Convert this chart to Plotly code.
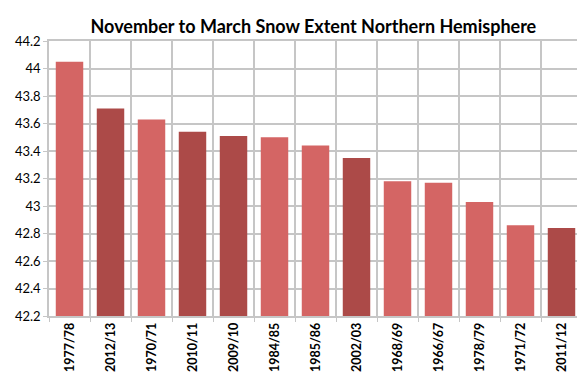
import plotly.graph_objects as go

seasons = ["1977/78", "2012/13", "1970/71", "2010/11", "2009/10", "1984/85", "1985/86",
           "2002/03", "1968/69", "1966/67", "1978/79", "1971/72", "2011/12"]
extent = [44.05, 43.71, 43.63, 43.54, 43.51, 43.50, 43.44,
          43.35, 43.18, 43.17, 43.03, 42.86, 42.84]
recent = [False, True, False, True, True, False, False,
          True, False, False, False, False, True]

axis_floor = 42.2
light = "#D46564"
dark = "#AC4A48"
colors = [dark if r else light for r in recent]

fig = go.Figure(go.Bar(
    x=seasons, y=[v - axis_floor for v in extent], base=axis_floor,
    marker=dict(color=colors, line=dict(width=0)),
    hovertext=[str(v) for v in extent],
))

fig.update_layout(
    width=585, height=381,
    margin=dict(l=41, r=11, t=33, b=73),
    paper_bgcolor="white", plot_bgcolor="white",
    title=dict(text="<b>November to March Snow Extent Northern Hemisphere</b>",
               x=0.496, xanchor="center", y=0.950, yanchor="middle", xref="paper",
               font=dict(family="Lato", size=18, color="black")),
    bargap=0.33,
    showlegend=False,
    font=dict(family="Lato", color="black"),
)
fig.update_xaxes(
    type="category", tickson="boundaries", showgrid=True, gridcolor="#C6C6C6", gridwidth=1.5,
    ticks="outside", ticklen=4, tickcolor="#C6C6C6",
    tickangle=-90, tickfont=dict(family="Lato", size=12.5, color="black"),
    tickvals=seasons, ticktext=["<b>%s</b>" % s for s in seasons],
    showline=True, linecolor="#C6C6C6", linewidth=1.5, mirror=True,
    automargin=False,
)
fig.update_yaxes(
    range=[42.2, 44.2], dtick=0.2, tick0=42.2,
    showgrid=True, gridcolor="#C6C6C6", gridwidth=1.5,
    ticks="outside", ticklen=4, tickcolor="#C6C6C6",
    tickfont=dict(family="Lato", size=13, color="black"),
    showline=True, linecolor="#C6C6C6", linewidth=1.5, mirror=True,
    tickformat="~g", zeroline=False, automargin=False,
)
fig.write_html("out.html")
